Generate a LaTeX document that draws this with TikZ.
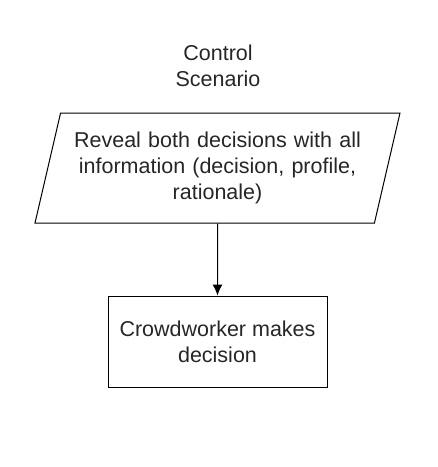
\documentclass[tikz,border=0pt]{standalone}
\usepackage{fontspec}
\setmainfont{Liberation Sans}
\usetikzlibrary{shapes.geometric, arrows.meta}

\begin{document}
\begin{tikzpicture}[x=1pt, y=1pt, font=\fontsize{21.5}{26}\selectfont, text=black!85, line width=1pt]
    \useasboundingbox (0,0) rectangle (438,-467);
    % Draw nodes
    \node[align=center] (title) at (218,-66) {Control\\Scenario};
    \node[draw, trapezium, trapezium left angle=72, trapezium right angle=108, trapezium stretches body, minimum width=365pt, minimum height=110pt, align=center, text width=290pt] (reveal) at (217.5,-168) {Reveal both decisions with all\\information (decision, profile,\\rationale)};
    \node[draw, rectangle, minimum width=219pt, minimum height=91pt, align=center] (decide) at (217.5,-341.5) {Crowdworker makes\\decision};

    % Draw edges
    \draw[-{Latex[length=11pt, width=10pt]}] (reveal) -- (decide);
\end{tikzpicture}
\end{document}
